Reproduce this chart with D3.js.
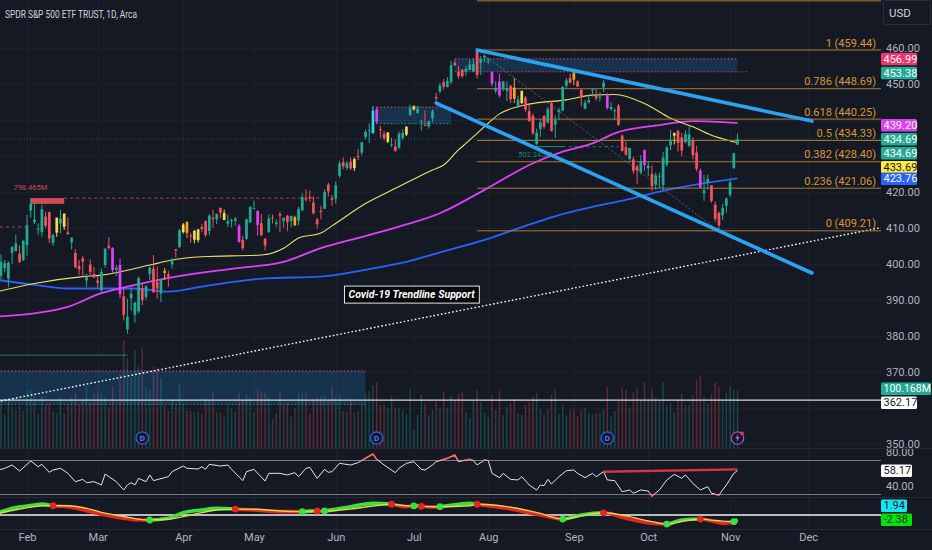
<!DOCTYPE html>
<html>
<head>
<meta charset="utf-8">
<title>SPY 1D</title>
<script src="https://cdn.jsdelivr.net/npm/d3@7/dist/d3.min.js"></script>
<style>
	html, body { margin: 0; padding: 0; background: #151924; overflow: hidden; }
	svg { display: block; font-family: Roboto, 'Noto Sans', sans-serif; }
</style>
</head>
<body>
<svg id="chart" width="932" height="550"></svg>
<script>
// ---------------- data ----------------
var monthLabels = [ 'Feb', 'Mar', 'Apr', 'May', 'Jun', 'Jul', 'Aug', 'Sep', 'Oct', 'Nov', 'Dec' ];
var monthBars   = [ 8, 27, 50, 69, 91, 112, 132, 155, 175, 197, 218 ]; // first session of each month (bar index)

// daily bars [ open, high, low, close ], bar 0 = 20 Jan .. bar 199 = 3 Nov
var candles = [
	// Jan
	[390.10,396.04,388.38,395.88],[396.72,402.65,395.72,400.63],[398.88,401.15,397.64,400.20],[395.95,400.70,393.56,400.35],[403.13,404.92,400.03,404.75],[403.66,408.16,403.44,405.68],[402.80,405.13,400.28,400.59],[401.13,406.53,400.77,406.48],
	// Feb
	[405.21,413.67,402.35,410.80],[414.86,418.31,412.88,416.78],[411.59,416.97,411.09,412.35],[409.79,411.29,408.10,409.83],[408.87,416.49,407.57,415.19],[413.13,414.53,409.93,410.65],[414.41,414.57,405.81,407.09],[405.86,408.44,405.01,408.04],[408.72,412.97,407.57,412.83],[411.24,415.05,408.51,412.64],[410.35,414.06,409.47,413.98],[408.79,412.91,408.14,408.28],[406.06,407.51,404.05,407.26],[403.06,404.16,398.82,399.09],[399.52,401.13,397.02,398.54],[401.56,402.20,396.25,400.66],[395.42,397.25,393.64,396.38],[399.87,401.29,396.75,397.73],[397.23,399.28,396.15,396.26],
	// Mar
	[395.41,396.69,393.38,394.74],[392.68,398.69,392.33,397.81],[399.71,404.45,399.03,404.19],[405.05,407.45,404.01,404.47],[404.42,404.67,397.63,398.27],[398.39,399.71,396.59,398.92],[399.74,401.48,390.53,391.56],[390.99,393.16,384.32,385.91],[381.81,390.39,380.65,385.36],[390.50,393.45,387.05,391.73],[385.89,389.49,383.71,389.28],[386.82,396.47,386.29,396.11],[393.22,394.40,388.55,389.99],[390.80,394.17,390.07,393.74],[397.24,399.41,395.58,398.91],[398.73,402.49,392.07,392.11],[395.09,399.29,390.35,393.17],[391.84,395.84,389.40,395.75],[398.12,398.92,395.56,397.52],[397.11,398.11,393.70,396.49],[399.93,401.60,398.68,401.35],[404.10,404.20,401.75,403.70],[404.66,409.70,404.54,409.39],
	// Apr
	[408.85,411.37,408.44,410.95],[411.62,411.92,407.24,408.67],[407.91,408.70,405.88,407.60],[406.77,409.48,405.68,409.19],[406.61,409.69,405.97,409.61],[410.26,411.18,408.92,409.72],[411.87,412.17,407.44,408.05],[409.18,413.84,407.99,413.47],[412.81,415.09,410.06,412.46],[412.37,413.96,411.08,413.94],[415.58,415.72,412.78,414.21],[412.22,415.08,412.16,414.14],[411.21,413.70,410.27,411.88],[412.19,412.68,410.17,412.20],[411.99,413.07,410.60,412.63],[410.58,411.16,406.02,406.08],[406.72,407.84,403.78,404.36],[407.00,412.69,406.74,412.41],[411.49,415.94,411.43,415.93],
	// May
	[415.47,417.62,415.27,415.51],[414.77,414.82,407.82,410.84],[411.36,413.87,407.77,408.02],[406.97,407.27,403.74,405.13],[408.91,413.72,408.64,412.63],[412.97,413.68,411.28,412.87],[411.13,412.43,410.23,411.59],[413.88,414.54,408.87,413.47],[411.95,412.43,409.97,412.85],[413.42,413.64,409.07,411.59],[411.96,413.43,410.23,413.35],[413.00,413.45,410.53,410.76],[412.01,415.85,410.71,415.24],[414.90,419.67,414.67,418.62],[418.16,420.72,417.31,418.10],[418.64,420.39,417.35,418.31],[417.08,418.72,413.68,414.10],[412.42,412.82,409.88,411.08],[414.74,416.16,412.41,414.65],[415.33,420.77,415.25,420.02],[422.03,422.58,418.74,420.18],[418.28,419.22,416.22,417.85],
	// Jun
	[418.09,422.92,416.79,421.82],[424.50,428.74,423.95,427.92],[428.28,429.62,426.37,427.10],[426.67,428.58,425.99,428.03],[428.44,429.62,426.11,426.55],[426.62,429.60,425.82,429.13],[429.96,431.99,428.87,429.90],[430.92,433.88,430.17,433.80],[435.32,437.33,434.63,436.66],[437.01,439.06,433.59,437.18],[436.33,443.90,436.23,442.60],[443.02,443.61,438.97,439.46],[437.45,438.37,435.03,437.18],[436.16,436.99,434.33,434.94],[433.95,436.62,433.60,436.51],[432.93,435.06,432.47,433.21],[432.62,434.61,431.19,431.44],[432.35,436.81,431.88,436.17],[435.05,437.44,434.41,436.39],[435.96,438.28,435.54,438.11],[441.44,444.30,441.11,443.28],
	// Jul
	[442.92,444.08,442.63,443.79],[441.91,443.89,441.90,443.13],[439.42,440.10,437.06,439.66],[438.63,442.64,438.30,438.55],[438.18,439.84,437.59,439.66],[440.45,442.97,439.44,442.46],[446.39,447.48,444.91,446.02],[447.90,450.38,447.45,449.56],[450.48,451.36,448.49,449.28],[449.13,451.93,449.08,450.84],[450.50,456.43,449.91,455.20],[455.88,456.81,454.97,455.20],[453.40,455.10,451.44,452.18],[453.96,454.17,451.71,452.18],[453.37,455.04,452.30,454.20],[453.92,456.74,453.87,455.44],[453.47,456.99,453.38,455.51],[459.02,459.44,451.55,452.49],[455.88,457.78,452.49,456.92],[457.41,458.16,456.05,457.79],
	// Aug
	[456.27,457.25,455.49,456.48],[453.25,453.52,449.35,450.13],[448.04,450.79,447.37,448.84],[450.72,452.89,446.27,446.81],[448.71,450.87,447.99,450.71],[448.08,450.70,445.27,448.75],[449.51,449.71,444.67,445.75],[449.01,451.70,444.70,445.91],[443.97,446.70,443.35,445.65],[444.70,448.11,444.38,448.11],[446.27,446.64,442.30,442.89],[442.46,444.18,439.53,439.64],[441.16,441.82,435.84,436.29],[433.37,437.57,433.01,436.50],[437.55,440.11,435.32,439.34],[441.18,441.18,437.57,438.15],[439.25,443.67,439.10,443.03],[444.69,445.22,436.86,436.89],[438.68,441.30,435.00,439.97],[442.24,443.40,439.97,442.76],[442.65,449.45,442.46,449.16],[449.51,451.67,448.78,451.01],[451.65,452.83,450.16,450.35],
	// Sep
	[453.17,453.67,449.68,451.19],[450.70,451.06,449.17,449.24],[448.40,448.51,443.81,446.22],[443.11,445.55,442.97,444.85],[444.90,447.11,444.53,445.52],[448.24,448.77,446.47,448.45],[446.95,448.53,445.39,445.99],[446.22,447.71,445.08,446.51],[449.07,451.08,447.71,450.36],[447.14,447.48,442.92,443.37],[443.05,444.97,442.56,443.63],[442.68,443.29,439.94,442.71],[444.01,444.44,438.43,438.64],[435.70,435.97,431.23,431.39],[432.45,434.10,429.99,430.42],[429.17,432.27,428.72,432.23],[429.09,429.82,425.02,425.88],[427.09,427.67,422.29,426.05],[425.48,430.25,424.87,428.52],[431.67,431.85,425.91,427.48],
	// Oct
	[426.62,428.60,424.46,427.31],[425.06,427.37,420.18,421.59],[422.07,425.43,420.56,424.66],[424.36,425.37,421.17,424.50],[421.97,431.13,420.60,429.54],[427.58,432.88,427.01,432.29],[432.94,437.22,431.63,434.54],[435.64,436.58,433.18,436.32],[436.95,437.34,431.23,433.66],[435.21,436.45,429.88,431.50],[433.82,437.14,433.57,436.04],[432.81,438.14,432.45,436.02],[434.19,435.18,429.09,430.21],[430.95,432.82,425.73,426.43],[425.98,426.54,421.08,421.19],[419.61,424.82,417.55,420.46],[422.65,424.82,420.74,423.63],[421.89,421.92,417.02,417.55],[416.45,417.33,411.60,412.55],[414.19,414.60,409.21,410.68],[413.56,416.68,412.22,415.59],[416.18,418.53,414.21,418.20],
	// Nov
	[419.20,423.50,418.65,422.66],[426.58,430.92,426.56,430.76],[433.14,436.29,433.01,434.69]
];

// volume, millions of shares, one per bar
var volumes = [
	91,84,59,84,72,68,74,65,
	101,102,94,60,90,76,78,64,61,88,61,76,89,97,76,86,108,80,96,
	99,96,90,72,108,75,130,189,157,124,172,143,175,106,102,143,142,122,75,65,84,77,113,
	76,67,65,63,64,60,86,85,100,63,63,55,76,70,64,97,85,93,89,
	62,103,98,97,89,51,61,98,76,80,56,70,97,97,98,60,86,89,91,93,82,110,
	88,92,65,64,86,62,65,76,95,100,110,115,76,76,70,92,71,71,66,60,104,
	32,58,94,78,57,67,81,70,98,71,91,84,95,98,62,52,85,101,80,62,
	54,93,67,100,58,72,78,86,61,58,75,80,90,96,69,59,68,94,103,60,76,57,67,
	69,56,67,70,61,58,61,61,67,107,55,65,82,104,102,71,97,105,84,115,
	84,104,87,82,116,74,78,63,84,95,75,75,93,120,127,90,78,95,115,107,86,97,
	110,103,100.168
];
var highVolBars = [ 31, 33, 65, 70, 101, 102, 133, 135, 164, 174, 189 ];
var lowVolBars  = [ 16, 18, 45, 50, 51, 53, 54, 61, 80, 96, 105, 110, 112, 139, 141, 155, 182 ];

// moving averages [ bar, price ]
var maFast = [ [0,392.3],[10,394.6],[23,396.5],[28,396.9],[41,399.7],[47,401.1],[55,402.0],[71,402.5],[77,404.4],[81,407.2],[87,408.6],[90,410.6],[99,416.8],[108,421.5],[117,426.1],[120,427.5],[124,431.7],[126,433.5],[129,436.3],[132,439.1],[135,441.7],[140,443.7],[144,444.6],[153,445.6],[160,446.9],[166,447.1],[174,444.6],[181,440.5],[187,438.1],[193,435.4],[199,433.69] ];
var maMid  = [ [0,385.4],[10,386.3],[19,388.1],[28,391.9],[33,393.2],[41,395.1],[48,396.5],[64,398.8],[77,400.6],[87,404.4],[95,406.7],[108,410.4],[119,414.1],[131,420.6],[144,428.0],[152,431.2],[160,433.5],[166,436.3],[178,438.6],[187,439.7],[199,439.2] ];
var maSlow = [ [0,395.6],[10,394.2],[19,393.2],[28,393.2],[37,393.2],[46,392.3],[55,393.7],[64,395.1],[72,396.0],[87,396.5],[100,398.6],[110,400.6],[120,403.5],[131,406.7],[144,411.3],[151,413.6],[160,415.9],[169,417.8],[178,420.1],[187,421.9],[199,423.76] ];

// fibonacci retracement, 27 Jul high -> 27 Oct low
var fibLevels = [ 1.272, 1, 0.786, 0.618, 0.5, 0.382, 0.236, 0 ];
var fibPrices = [ 473.10, 459.44, 448.69, 440.25, 434.33, 428.40, 421.06, 409.21 ];
var fibStart  = 129;

// drawings [ bar, price ]
var upperTrend = [ [129, 459.44], [219, 439.7] ];
var lowerTrend = [ [118, 444.7], [219, 397.5] ];
var covidTrend = [ [0, 361.75], [240, 410.6] ];
var fibDiag    = [ [129, 459.44], [194, 409.21] ];
var zoneBoxes  = [
	  { from: 102, to: 122, top: 443.61, bottom: 438.97, topColor: '#f06292', bottomColor: '#22ab94', ext: 0 }
	, { from: 123, to: 199, top: 456.99, bottom: 453.38, topColor: '#f06292', bottomColor: '#f7525f', ext: 3 }
	, { from: 0,   to: 99,  top: 370.3,  bottom: 361.0,  topColor: '#f06292', bottomColor: '#22ab94', ext: 0 }
];
var dividendBars = [ 39, 102, 164 ];
var eventBar     = 199;

// RSI [ bar, value ]
var rsi = [ [0,58],[1,59.6],[2,60.8],[4,64.7],[6,57.6],[9,69.4],[11,62.7],[12,65.5],[14,56.1],[15,58.8],[17,60.8],[19,54.9],[21,45.1],[23,47.8],[24,43.9],[26,45.1],[28,41.2],[29,54.1],[32,45.1],[34,35.3],[35,41.2],[36,43.9],[37,41.2],[38,49],[40,45.1],[41,53],[42,46.3],[45,49.8],[46,51],[47,56.9],[50,63.5],[51,60.8],[54,60],[55,62.7],[56,59.6],[57,65.5],[60,63.5],[62,64.7],[63,59.6],[66,46.3],[67,56.9],[69,59.6],[72,45.9],[73,54.9],[76,54.9],[78,53],[80,55.7],[81,51],[83,60.8],[84,62],[86,49],[88,59.6],[89,56.1],[90,56.9],[92,66.7],[95,64.7],[97,67.5],[99,72.6],[101,77.6],[102,71.4],[104,64.7],[107,55.7],[108,60.8],[110,66.7],[112,68.6],[114,59.6],[115,58.8],[117,64.7],[118,68.6],[121,72.6],[123,76.5],[124,68.6],[127,71.4],[128,69.8],[129,64.7],[131,70.6],[132,69.8],[133,54.9],[135,49.8],[136,54.9],[138,47.8],[140,47.1],[141,51],[143,41.2],[145,35.3],[146,41.2],[147,40.4],[148,47.8],[149,42.4],[151,51],[153,58],[155,58.8],[156,54.9],[158,49.8],[160,54.9],[161,51],[163,56.9],[164,47.1],[166,46.3],[168,33.3],[170,35.3],[171,31.4],[173,35.3],[175,34.1],[176,28.2],[178,35.3],[180,47.1],[182,53.7],[184,49],[185,53],[187,43.1],[189,35.3],[191,39.2],[192,31.4],[194,29.4],[196,41.2],[198,54.9],[199,58.17] ];
var rsiTrend = [ [163, 56.8], [199, 59.6] ];

// MACD
var macdBars   = [ 0,1,4,10,12,15,19,24,29,34,38,41,46,50,55,59,64,69,77,82,84,86,87,88,95,101,106,110,112,113,114,117,119,127,129,137,146,152,157,163,169,176,180,184,189,193,195,198,199 ];
var macdVals   = [ 1.4,1.8,3.6,5.4,5.9,5.0,4.5,2.3,0,-1.8,-2.7,-2.7,-1.8,1.2,2.7,3.6,3.2,2.7,1.8,1.8,2.1,2.2,2.0,2.2,4.5,6.3,5.8,4.5,4.9,5.0,4.7,4.3,4.5,6.3,5.8,3.6,0,-2.2,0,1.2,-1.8,-4.5,-4.9,-2.7,-2.2,-3.6,-4.5,-3.6,-2.38 ];
var signalVals = [ 0.9,1.2,2.4,4.5,5.0,5.0,5.0,3.6,1.0,-0.8,-2.2,-2.7,-2.3,-0.9,1.3,2.7,3.2,3.1,2.1,1.8,1.9,2.2,2.2,2.2,3.2,4.9,5.8,5.0,4.9,4.8,4.7,4.5,4.5,5.0,5.8,4.5,0.9,-2.2,-0.5,1.2,-0.5,-3.6,-4.9,-3.5,-2.2,-3.0,-3.3,-3.6,-3.7 ];
var macdHist   = 1.94;

var priceTicks = [ 460, 450, 440, 430, 420, 410, 400, 390, 380, 370, 360, 350 ];
var rsiTicks   = [ 80, 60, 40 ];
var lastClose  = 434.69;
var lastVolume = 100.168;
var hLine      = 362.17;

// ---------------- layout ----------------
var C = {
	  bg      : '#151924'
	, grid    : '#1c202c'
	, text    : '#b2b5be'
	, up      : '#22ab94'
	, down    : '#f7525f'
	, fib     : '#a97c33'
	, fibText : '#d9972f'
	, trend   : '#2aa3f2'
	, fast    : '#e9e36c'
	, mid     : '#e040fb'
	, slow    : '#2962ff'
	, macdUp  : '#3be03b'
	, macdDn  : '#e3261f'
	, signal  : '#e8d44d'
};
var plotW = 881;
var svg   = d3.select( '#chart' );

var x     = d3.scaleLinear().domain( [ 0, 236 ] ).range( [ -2.76, -2.76 + 236 * 3.72 ] );
var y     = d3.scaleLinear().domain( [ 350, 460 ] ).range( [ 444, 48 ] );
var yVol  = d3.scaleLinear().domain( [ 0, 200 ] ).range( [ 448, 334 ] );
var yRsi  = d3.scaleLinear().domain( [ 40, 80 ] ).range( [ 486, 452 ] );
var yMacd = d3.scaleLinear().domain( [ -5, 5 ] ).range( [ 524.25, 505.75 ] );
var line  = ( ys, curve ) => d3.line().x( d => x( d[ 0 ] ) ).y( d => ys( d[ 1 ] ) ).curve( curve || d3.curveLinear );

svg.append( 'rect' ).attr( 'width', 932 ).attr( 'height', 550 ).attr( 'fill', C.bg );

var defs = svg.append( 'defs' );
function addClip( id, rects ) {
	var cp = defs.append( 'clipPath' ).attr( 'id', id );
	rects.forEach( r => cp.append( 'rect' ).attr( 'x', r[ 0 ] ).attr( 'y', r[ 1 ] ).attr( 'width', r[ 2 ] ).attr( 'height', r[ 3 ] ) );
}
addClip( 'clipMain', [ [ 0, 0, plotW, 448 ] ] );
addClip( 'clipRsi',  [ [ 0, 449, plotW, 48 ] ] );
addClip( 'clipMacd', [ [ 0, 498, plotW, 31 ] ] );
addClip( 'clipRsiAxis', [ [ plotW, 449, 51, 48 ] ] );
addClip( 'rsiHot',   [ [ 0, 449, plotW, yRsi( 70 ) - 449 ], [ 0, yRsi( 30 ), plotW, 497 - yRsi( 30 ) ] ] );

// grid
var grid = svg.append( 'g' ).attr( 'stroke', C.grid ).attr( 'stroke-width', 1 );
grid.selectAll( 'line.v' ).data( monthBars ).join( 'line' ).attr( 'class', 'v' )
	.attr( 'x1', d => Math.round( x( d ) ) + 0.5 ).attr( 'x2', d => Math.round( x( d ) ) + 0.5 )
	.attr( 'y1', 0 ).attr( 'y2', 529 );
grid.selectAll( 'line.h' ).data( priceTicks ).join( 'line' ).attr( 'class', 'h' )
	.attr( 'x1', 0 ).attr( 'x2', plotW )
	.attr( 'y1', d => Math.round( y( d ) ) + 0.5 ).attr( 'y2', d => Math.round( y( d ) ) + 0.5 );

// pane separators
svg.selectAll( 'line.sep' ).data( [ 448.5, 497.5, 529.5 ] ).join( 'line' ).attr( 'class', 'sep' )
	.attr( 'x1', 0 ).attr( 'x2', 932 ).attr( 'y1', d => d ).attr( 'y2', d => d )
	.attr( 'stroke', '#262a36' );

// ---------------- main pane ----------------
var main = svg.append( 'g' ).attr( 'clip-path', 'url(#clipMain)' );

// volume
main.append( 'g' ).selectAll( 'rect' ).data( volumes ).join( 'rect' )
	.attr( 'x', ( d, i ) => x( i ) - 0.7 )
	.attr( 'width', 1.4 )
	.attr( 'y', d => yVol( d ) )
	.attr( 'height', d => yVol( 0 ) - yVol( d ) )
	.attr( 'fill', ( d, i ) => candles[ i ][ 3 ] >= candles[ i ][ 0 ] ? C.up : C.down )
	.attr( 'opacity', 0.32 );

// zone boxes
var boxG = main.append( 'g' );
zoneBoxes.forEach( b => {
	boxG.append( 'rect' )
		.attr( 'x', x( b.from ) ).attr( 'y', y( b.top ) )
		.attr( 'width', x( b.to ) - x( b.from ) ).attr( 'height', y( b.bottom ) - y( b.top ) )
		.attr( 'fill', '#2196f3' ).attr( 'opacity', 0.2 );
	boxG.append( 'line' ).attr( 'x1', x( b.from ) ).attr( 'x2', x( b.to ) )
		.attr( 'y1', y( b.top ) ).attr( 'y2', y( b.top ) )
		.attr( 'stroke', b.topColor ).attr( 'stroke-dasharray', '1.5,2' ).attr( 'opacity', 0.8 );
	boxG.append( 'line' ).attr( 'x1', x( b.from ) ).attr( 'x2', x( b.to + b.ext ) )
		.attr( 'y1', y( b.bottom ) ).attr( 'y2', y( b.bottom ) )
		.attr( 'stroke', b.bottomColor ).attr( 'stroke-dasharray', '1.5,2' ).attr( 'opacity', 0.8 );
} );

// horizontal line + small annotations
main.append( 'line' ).attr( 'x1', 0 ).attr( 'x2', plotW ).attr( 'y1', y( hLine ) ).attr( 'y2', y( hLine ) )
	.attr( 'stroke', '#d8d8d8' ).attr( 'stroke-width', 1.2 );
main.append( 'line' ).attr( 'x1', 0 ).attr( 'x2', x( 35 ) ).attr( 'y1', y( 374.7 ) ).attr( 'y2', y( 374.7 ) )
	.attr( 'stroke', C.up ).attr( 'opacity', 0.7 );
main.append( 'line' ).attr( 'x1', x( 18 ) ).attr( 'x2', x( 87 ) ).attr( 'y1', y( 418.31 ) ).attr( 'y2', y( 418.31 ) )
	.attr( 'stroke', C.down ).attr( 'stroke-dasharray', '3,3' ).attr( 'opacity', 0.75 );
main.append( 'line' ).attr( 'x1', 0 ).attr( 'x2', x( 7.5 ) ).attr( 'y1', y( 410.3 ) ).attr( 'y2', y( 410.3 ) )
	.attr( 'stroke', C.down ).attr( 'stroke-dasharray', '3,3' ).attr( 'opacity', 0.75 );
main.append( 'rect' ).attr( 'x', x( 9 ) ).attr( 'y', y( 418.31 ) ).attr( 'width', x( 18 ) - x( 9 ) ).attr( 'height', y( 416.7 ) - y( 418.31 ) )
	.attr( 'fill', C.down ).attr( 'opacity', 0.85 );
main.append( 'text' ).attr( 'x', x( 8.9 ) ).attr( 'y', y( 420.6 ) ).attr( 'text-anchor', 'middle' )
	.attr( 'font-size', 7.5 ).attr( 'fill', C.down ).attr( 'opacity', 0.8 ).text( '798.465M' );
main.append( 'line' ).attr( 'x1', x( 144.5 ) ).attr( 'x2', x( 152 ) ).attr( 'y1', y( 432.6 ) ).attr( 'y2', y( 432.6 ) )
	.attr( 'stroke', C.up ).attr( 'opacity', 0.8 );
main.append( 'line' ).attr( 'x1', x( 152 ) ).attr( 'x2', x( 167 ) ).attr( 'y1', y( 432.6 ) ).attr( 'y2', y( 432.6 ) )
	.attr( 'stroke', C.up ).attr( 'stroke-dasharray', '3,3' ).attr( 'opacity', 0.7 );
main.append( 'text' ).attr( 'x', x( 144.6 ) ).attr( 'y', y( 429.6 ) ).attr( 'text-anchor', 'middle' )
	.attr( 'font-size', 7.5 ).attr( 'fill', C.up ).attr( 'opacity', 0.7 ).text( '502.345M' );

// last price line
main.append( 'line' ).attr( 'x1', 0 ).attr( 'x2', plotW ).attr( 'y1', y( lastClose ) ).attr( 'y2', y( lastClose ) )
	.attr( 'stroke', C.up ).attr( 'stroke-dasharray', '1,2' ).attr( 'opacity', 0.45 );

// covid trend line
main.append( 'path' ).attr( 'd', line( y )( covidTrend ) )
	.attr( 'fill', 'none' ).attr( 'stroke', '#ffffff' ).attr( 'stroke-width', 1.4 ).attr( 'stroke-dasharray', '1.6,2.2' );

// moving averages
[ [ maSlow, C.slow, 1.8 ], [ maMid, C.mid, 1.8 ], [ maFast, C.fast, 1.1 ] ].forEach( m => {
	main.append( 'path' ).attr( 'd', line( y, d3.curveMonotoneX )( m[ 0 ] ) )
		.attr( 'fill', 'none' ).attr( 'stroke', m[ 1 ] ).attr( 'stroke-width', m[ 2 ] );
} );

// fibonacci
var fibG = main.append( 'g' );
fibG.selectAll( 'line' ).data( fibPrices ).join( 'line' )
	.attr( 'x1', x( fibStart ) ).attr( 'x2', plotW )
	.attr( 'y1', d => y( d ) ).attr( 'y2', d => y( d ) )
	.attr( 'stroke', C.fib ).attr( 'stroke-width', 1 );
fibG.selectAll( 'text' ).data( fibPrices.filter( d => y( d ) > 14 ) ).join( 'text' ) // level labels above the pane are off screen
	.attr( 'x', 876 ).attr( 'y', d => y( d ) - 3.5 )
	.attr( 'text-anchor', 'end' ).attr( 'font-size', 11 ).attr( 'fill', C.fibText )
	.text( d => fibLevels[ fibPrices.indexOf( d ) ] + ' (' + d.toFixed( 2 ) + ')' );
main.append( 'path' ).attr( 'd', line( y )( fibDiag ) )
	.attr( 'fill', 'none' ).attr( 'stroke', '#8a8d96' ).attr( 'stroke-width', 0.8 ).attr( 'stroke-dasharray', '2,2' ).attr( 'opacity', 0.8 );

// candles
function candleColor( c, i ) {
	var up = c[ 3 ] >= c[ 0 ];
	if ( highVolBars.indexOf( i ) >= 0 ) return up ? '#33d6e8' : '#e040fb';
	if ( lowVolBars.indexOf( i ) >= 0 ) return up ? '#f3dc4a' : '#ff9f1a';
	return up ? C.up : C.down;
}
var cg = main.append( 'g' ).selectAll( 'g' ).data( candles ).join( 'g' );
cg.append( 'line' )
	.attr( 'x1', ( d, i ) => x( i ) ).attr( 'x2', ( d, i ) => x( i ) )
	.attr( 'y1', d => y( d[ 1 ] ) ).attr( 'y2', d => y( d[ 2 ] ) )
	.attr( 'stroke', candleColor ).attr( 'stroke-width', 1 );
cg.append( 'rect' )
	.attr( 'x', ( d, i ) => x( i ) - 1.35 ).attr( 'width', 2.7 )
	.attr( 'y', d => y( Math.max( d[ 0 ], d[ 3 ] ) ) )
	.attr( 'height', d => Math.max( 1, Math.abs( y( d[ 0 ] ) - y( d[ 3 ] ) ) ) )
	.attr( 'fill', candleColor );

// channel trend lines
[ upperTrend, lowerTrend ].forEach( t => {
	main.append( 'path' ).attr( 'd', line( y )( t ) )
		.attr( 'fill', 'none' ).attr( 'stroke', C.trend ).attr( 'stroke-width', 3.6 ).attr( 'stroke-linecap', 'round' );
} );

// covid label
var lab = main.append( 'g' ).attr( 'transform', 'translate(' + x( 111.4 ) + ',' + y( 391.5 ) + ')' );
var labText = lab.append( 'text' ).attr( 'text-anchor', 'middle' ).attr( 'dy', '0.35em' )
	.attr( 'font-size', 10.5 ).attr( 'font-weight', 'bold' ).attr( 'font-style', 'italic' ).attr( 'fill', '#ffffff' )
	.text( 'Covid-19 Trendline Support' );
var bb = labText.node().getBBox();
lab.insert( 'rect', 'text' ).attr( 'x', bb.x - 4 ).attr( 'y', -8.5 ).attr( 'width', bb.width + 8 ).attr( 'height', 17 )
	.attr( 'fill', '#050608' ).attr( 'stroke', '#e8e8e8' ).attr( 'stroke-width', 1 );

// dividend / event markers
var mk = main.append( 'g' );
dividendBars.forEach( b => {
	mk.append( 'circle' ).attr( 'cx', x( b ) ).attr( 'cy', 438 ).attr( 'r', 6.2 )
		.attr( 'fill', C.bg ).attr( 'stroke', '#2f5fe8' ).attr( 'stroke-width', 1.3 );
	mk.append( 'text' ).attr( 'x', x( b ) ).attr( 'y', 438 ).attr( 'dy', '0.35em' ).attr( 'text-anchor', 'middle' )
		.attr( 'font-size', 8 ).attr( 'font-weight', 'bold' ).attr( 'fill', '#4d7cff' ).text( 'D' );
} );
mk.append( 'circle' ).attr( 'cx', x( eventBar ) ).attr( 'cy', 438 ).attr( 'r', 6.2 )
	.attr( 'fill', C.bg ).attr( 'stroke', '#9b4fd1' ).attr( 'stroke-width', 1.3 );
mk.append( 'path' ).attr( 'transform', 'translate(' + x( eventBar ) + ',438)' )
	.attr( 'd', 'M0.8,-4 L-2.2,0.6 L-0.2,0.6 L-1,4 L2.2,-0.8 L0.2,-0.8 Z' ).attr( 'fill', '#b06be0' );
mk.append( 'circle' ).attr( 'cx', x( eventBar ) + 4.6 ).attr( 'cy', 433.4 ).attr( 'r', 1.8 ).attr( 'fill', '#f23645' );

// ---------------- RSI pane ----------------
var rsiG = svg.append( 'g' ).attr( 'clip-path', 'url(#clipRsi)' );
rsiG.selectAll( 'line.band' ).data( [ 70, 30 ] ).join( 'line' ).attr( 'class', 'band' )
	.attr( 'x1', 0 ).attr( 'x2', plotW ).attr( 'y1', d => yRsi( d ) ).attr( 'y2', d => yRsi( d ) )
	.attr( 'stroke', '#787b86' ).attr( 'stroke-width', 1 );
rsiG.append( 'path' ).attr( 'd', line( yRsi )( rsi ) ).attr( 'fill', 'none' ).attr( 'stroke', '#e6e6e6' ).attr( 'stroke-width', 1 );
svg.append( 'path' ).attr( 'clip-path', 'url(#rsiHot)' ).attr( 'd', line( yRsi )( rsi ) )
	.attr( 'fill', 'none' ).attr( 'stroke', '#f06a6a' ).attr( 'stroke-width', 1.6 );
rsiG.append( 'path' ).attr( 'd', line( yRsi )( rsiTrend ) ).attr( 'fill', 'none' )
	.attr( 'stroke', '#f23645' ).attr( 'stroke-width', 2.4 ).attr( 'opacity', 0.9 );

// ---------------- MACD pane ----------------
var macdG = svg.append( 'g' ).attr( 'clip-path', 'url(#clipMacd)' );
var macdPts = macdBars.map( ( b, k ) => ( { b: b, m: macdVals[ k ], s: signalVals[ k ] } ) );
macdG.append( 'line' ).attr( 'x1', 0 ).attr( 'x2', plotW ).attr( 'y1', yMacd( 0 ) ).attr( 'y2', yMacd( 0 ) )
	.attr( 'stroke', '#f2f2f2' ).attr( 'stroke-width', 1.6 );
// green where macd is above signal, red below
var upClip = defs.append( 'clipPath' ).attr( 'id', 'macdUp' );
var dnClip = defs.append( 'clipPath' ).attr( 'id', 'macdDn' );
d3.pairs( macdPts ).forEach( p => {
	var diff = ( p[ 0 ].m - p[ 0 ].s ) + ( p[ 1 ].m - p[ 1 ].s );
	( diff >= 0 ? upClip : dnClip ).append( 'rect' )
		.attr( 'x', x( p[ 0 ].b ) - 0.5 ).attr( 'width', x( p[ 1 ].b ) - x( p[ 0 ].b ) + 1 )
		.attr( 'y', 498 ).attr( 'height', 31 );
} );
var macdPath = d3.line().x( d => x( d.b ) ).y( d => yMacd( d.m ) ).curve( d3.curveMonotoneX )( macdPts );
[ [ 'macdUp', C.macdUp ], [ 'macdDn', C.macdDn ] ].forEach( s => {
	macdG.append( 'g' ).attr( 'clip-path', 'url(#' + s[ 0 ] + ')' ).append( 'path' ).attr( 'd', macdPath )
		.attr( 'fill', 'none' ).attr( 'stroke', s[ 1 ] ).attr( 'stroke-width', 3.6 );
} );
macdG.append( 'path' ).attr( 'd', d3.line().x( d => x( d.b ) ).y( d => yMacd( d.s ) ).curve( d3.curveMonotoneX )( macdPts ) )
	.attr( 'fill', 'none' ).attr( 'stroke', C.signal ).attr( 'stroke-width', 1.4 );
var crosses = macdPts.filter( ( d, k ) => k < macdPts.length - 1 && Math.abs( d.m - d.s ) < 0.05 );
macdG.selectAll( 'circle' ).data( crosses ).join( 'circle' )
	.attr( 'cx', d => x( d.b ) ).attr( 'cy', d => yMacd( d.m ) ).attr( 'r', 3.4 )
	.attr( 'fill', d => {
		var next = macdPts[ macdPts.indexOf( d ) + 1 ];
		return next.m - next.s >= 0 ? C.macdUp : C.macdDn;
	} );

// ---------------- price tags ----------------
function spreadTags( list, gap ) { // stack overlapping tags, around an anchored tag or the group mean
	var groups = list.slice().sort( ( a, b ) => a.y - b.y ).map( t => ( { items: [ t ], c: t.y } ) );
	var merged = true;
	while ( merged ) {
		merged = false;
		for ( var k = 0; k < groups.length - 1; k++ ) {
			var a = groups[ k ], b = groups[ k + 1 ];
			var aEnd   = a.c + ( a.items.length - 1 ) * gap / 2;
			var bStart = b.c - ( b.items.length - 1 ) * gap / 2;
			if ( bStart - aEnd < gap ) {
				a.items = a.items.concat( b.items );
				a.c     = d3.mean( a.items, t => t.y );
				groups.splice( k + 1, 1 );
				merged  = true;
				break;
			}
		}
	}
	groups.forEach( g => {
		var n = g.items.length, start = g.c - ( n - 1 ) * gap / 2;
		var ai = g.items.findIndex( t => t.anchor );
		if ( ai >= 0 ) start = g.items[ ai ].y - ai * gap;
		g.items.forEach( ( t, k ) => t.ty = start + k * gap );
	} );
	return list;
}
var mainTags = spreadTags( [
	  { y: y( 456.99 ),        text: '456.99',   fill: '#f0336a', color: '#ffffff', anchor: true }
	, { y: y( 453.38 ),        text: '453.38',   fill: C.up,      color: '#ffffff' }
	, { y: y( 439.20 ),        text: '439.20',   fill: '#db3ef3', color: '#ffffff' }
	, { y: y( lastClose ),     text: '434.69',   fill: C.up,      color: '#ffffff', anchor: true }
	, { y: y( lastClose ),     text: '434.69',   fill: C.up,      color: '#ffffff' }
	, { y: y( 433.69 ),        text: '433.69',   fill: '#ffeb3b', color: '#131722' }
	, { y: y( 423.76 ),        text: '423.76',   fill: '#2962ff', color: '#ffffff' }
	, { y: yVol( lastVolume ), text: '100.168M', fill: C.up,      color: '#ffffff', w: 50, size: 10.5 }
	, { y: y( hLine ),         text: '362.17',   fill: '#ffffff', color: '#131722' }
], 14 );
var rsiTags  = spreadTags( [ { y: yRsi( 58.17 ), text: '58.17', fill: '#ffffff', color: '#131722', w: 31 } ], 14 );
var macdTags = spreadTags( [
	  { y: yMacd( macdHist ), text: '1.94',  fill: '#12e6f5', color: '#131722', w: 26 }
	, { y: yMacd( -2.38 ),    text: '-2.38', fill: '#00e600', color: '#131722', w: 31, anchor: true }
], 14 );

// ---------------- axes ----------------
function freeOf( tags, ys ) { // axis labels hidden under a tag are dropped, as on the chart
	return v => !tags.some( t => Math.abs( t.ty - ys( v ) ) < 9 );
}
function styleAxis( g ) {
	g.attr( 'font-size', 11 ).attr( 'font-family', null );
	g.select( '.domain' ).remove();
	g.selectAll( 'text' ).attr( 'fill', C.text );
}
svg.append( 'g' ).attr( 'transform', 'translate(' + plotW + ',0)' )
	.call( d3.axisRight( y ).tickValues( priceTicks.filter( freeOf( mainTags, y ) ) ).tickFormat( d3.format( '.2f' ) ).tickSize( 0 ).tickPadding( 5 ) )
	.call( styleAxis );
svg.append( 'g' ).attr( 'clip-path', 'url(#clipRsiAxis)' ).append( 'g' ).attr( 'transform', 'translate(' + plotW + ',0)' )
	.call( d3.axisRight( yRsi ).tickValues( rsiTicks.filter( freeOf( rsiTags, yRsi ) ) ).tickFormat( d3.format( '.2f' ) ).tickSize( 0 ).tickPadding( 5 ) )
	.call( styleAxis );
svg.append( 'g' ).attr( 'transform', 'translate(0,533)' )
	.call( d3.axisBottom( x ).tickValues( monthBars ).tickFormat( ( d, k ) => monthLabels[ k ] ).tickSize( 0 ).tickPadding( 0 ) )
	.call( styleAxis );

var tagG = svg.append( 'g' ).selectAll( 'g' ).data( mainTags.concat( rsiTags, macdTags ) ).join( 'g' )
	.attr( 'transform', d => 'translate(' + plotW + ',' + d.ty + ')' );
tagG.append( 'rect' ).attr( 'x', 0 ).attr( 'y', -6 ).attr( 'width', d => d.w || 36 ).attr( 'height', 12.5 ).attr( 'rx', 1.5 )
	.attr( 'fill', d => d.fill );
tagG.append( 'text' ).attr( 'x', 2.5 ).attr( 'dy', '0.35em' ).attr( 'font-size', d => d.size || 11 ).attr( 'fill', d => d.color )
	.text( d => d.text );

// ---------------- header ----------------
svg.append( 'text' ).attr( 'x', 5 ).attr( 'y', 18 ).attr( 'font-size', 11.5 ).attr( 'fill', '#d1d4dc' )
	.attr( 'textLength', 132 ).attr( 'lengthAdjust', 'spacingAndGlyphs' )
	.text( 'SPDR S&P 500 ETF TRUST, 1D, Arca' );
svg.append( 'rect' ).attr( 'x', 883.5 ).attr( 'y', 0.5 ).attr( 'width', 47 ).attr( 'height', 24 ).attr( 'rx', 2 )
	.attr( 'fill', C.bg ).attr( 'stroke', '#2a2e39' );
svg.append( 'text' ).attr( 'x', 889 ).attr( 'y', 17 ).attr( 'font-size', 11.5 ).attr( 'fill', '#d1d4dc' ).text( 'USD' );
</script>
</body>
</html>
